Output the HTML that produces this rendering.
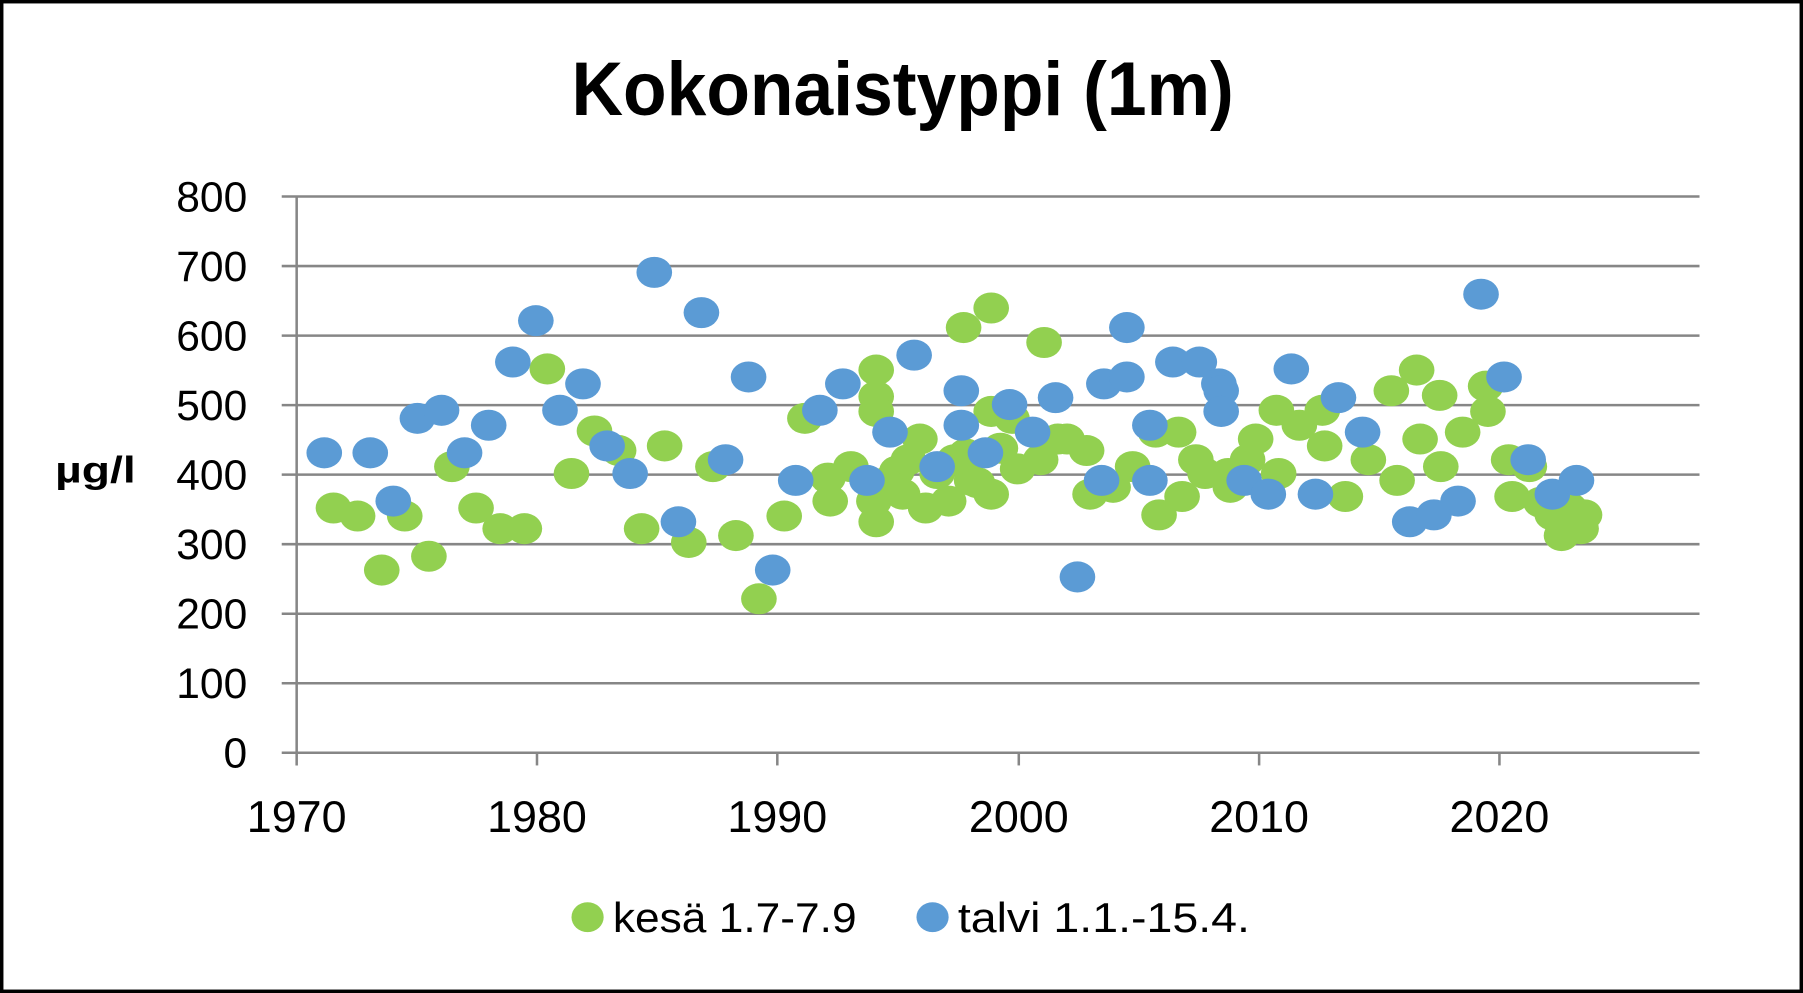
<!DOCTYPE html>
<html><head><meta charset="utf-8"><style>html,body{margin:0;padding:0;background:#fff}svg{display:block}</style></head>
<body>
<svg width="1803" height="993" viewBox="0 0 1568 864" preserveAspectRatio="none" xmlns="http://www.w3.org/2000/svg" font-family="'Liberation Sans', sans-serif">
<rect x="1.5" y="1.5" width="1565" height="861" fill="#fff" stroke="#000" stroke-width="3"/>
<text x="497" y="100" font-size="66" font-weight="bold" textLength="576" lengthAdjust="spacingAndGlyphs">Kokonaistyppi (1m)</text>
<g stroke="#868686" stroke-width="2.2">
<line x1="245" y1="171" x2="1478" y2="171"/><line x1="245" y1="231.5" x2="1478" y2="231.5"/>
<line x1="245" y1="292" x2="1478" y2="292"/><line x1="245" y1="352.5" x2="1478" y2="352.5"/>
<line x1="245" y1="413" x2="1478" y2="413"/><line x1="245" y1="473.5" x2="1478" y2="473.5"/>
<line x1="245" y1="534" x2="1478" y2="534"/><line x1="245" y1="594.5" x2="1478" y2="594.5"/>
<line x1="245" y1="655" x2="1478" y2="655"/>
<line x1="258" y1="171" x2="258" y2="666"/>
<line x1="467" y1="655" x2="467" y2="666"/><line x1="676" y1="655" x2="676" y2="666"/>
<line x1="886" y1="655" x2="886" y2="666"/><line x1="1095" y1="655" x2="1095" y2="666"/>
<line x1="1304" y1="655" x2="1304" y2="666"/>
</g>
<g font-size="37" text-anchor="end">
<text x="215" y="184">800</text>
<text x="215" y="244.5">700</text>
<text x="215" y="305">600</text>
<text x="215" y="365.5">500</text>
<text x="215" y="426">400</text>
<text x="215" y="486.5">300</text>
<text x="215" y="547">200</text>
<text x="215" y="607.5">100</text>
<text x="215" y="668">0</text>
</g>
<g font-size="39" text-anchor="middle">
<text x="258" y="724">1970</text>
<text x="467" y="724">1980</text>
<text x="676" y="724">1990</text>
<text x="886" y="724">2000</text>
<text x="1095" y="724">2010</text>
<text x="1304" y="724">2020</text>
</g>
<text x="48" y="420" font-size="32" font-weight="bold" textLength="70" lengthAdjust="spacingAndGlyphs">µg/l</text>
<g fill="#92d050">
<ellipse cx="290" cy="442" rx="15.5" ry="13.5"/><ellipse cx="311" cy="449" rx="15.5" ry="13.5"/><ellipse cx="332" cy="496" rx="15.5" ry="13.5"/><ellipse cx="352" cy="449" rx="15.5" ry="13.5"/><ellipse cx="373" cy="484" rx="15.5" ry="13.5"/><ellipse cx="393" cy="406" rx="15.5" ry="13.5"/><ellipse cx="414" cy="442" rx="15.5" ry="13.5"/><ellipse cx="435" cy="460" rx="15.5" ry="13.5"/><ellipse cx="456" cy="460" rx="15.5" ry="13.5"/><ellipse cx="476" cy="321" rx="15.5" ry="13.5"/><ellipse cx="497" cy="412" rx="15.5" ry="13.5"/><ellipse cx="517" cy="375" rx="15.5" ry="13.5"/><ellipse cx="538" cy="392" rx="15.5" ry="13.5"/><ellipse cx="558" cy="460" rx="15.5" ry="13.5"/><ellipse cx="578" cy="388" rx="15.5" ry="13.5"/><ellipse cx="599" cy="472" rx="15.5" ry="13.5"/><ellipse cx="620" cy="406" rx="15.5" ry="13.5"/><ellipse cx="640" cy="466" rx="15.5" ry="13.5"/><ellipse cx="660" cy="521" rx="15.5" ry="13.5"/><ellipse cx="682" cy="449" rx="15.5" ry="13.5"/><ellipse cx="700" cy="364" rx="15.5" ry="13.5"/><ellipse cx="720" cy="416" rx="15.5" ry="13.5"/><ellipse cx="722" cy="436" rx="15.5" ry="13.5"/><ellipse cx="740" cy="406" rx="15.5" ry="13.5"/><ellipse cx="762" cy="322" rx="15.5" ry="13.5"/><ellipse cx="762" cy="345" rx="15.5" ry="13.5"/><ellipse cx="762" cy="358" rx="15.5" ry="13.5"/><ellipse cx="760" cy="436" rx="15.5" ry="13.5"/><ellipse cx="762" cy="454" rx="15.5" ry="13.5"/><ellipse cx="780" cy="410" rx="15.5" ry="13.5"/><ellipse cx="785" cy="430" rx="15.5" ry="13.5"/><ellipse cx="800" cy="382" rx="15.5" ry="13.5"/><ellipse cx="805" cy="442" rx="15.5" ry="13.5"/><ellipse cx="825" cy="436" rx="15.5" ry="13.5"/><ellipse cx="838" cy="285" rx="15.5" ry="13.5"/><ellipse cx="840" cy="395" rx="15.5" ry="13.5"/><ellipse cx="845" cy="418" rx="15.5" ry="13.5"/><ellipse cx="862" cy="268" rx="15.5" ry="13.5"/><ellipse cx="862" cy="430" rx="15.5" ry="13.5"/><ellipse cx="862" cy="358" rx="15.5" ry="13.5"/><ellipse cx="870" cy="390" rx="15.5" ry="13.5"/><ellipse cx="880" cy="364" rx="15.5" ry="13.5"/><ellipse cx="885" cy="408" rx="15.5" ry="13.5"/><ellipse cx="908" cy="298" rx="15.5" ry="13.5"/><ellipse cx="905" cy="400" rx="15.5" ry="13.5"/><ellipse cx="920" cy="382" rx="15.5" ry="13.5"/><ellipse cx="928" cy="382" rx="15.5" ry="13.5"/><ellipse cx="945" cy="392" rx="15.5" ry="13.5"/><ellipse cx="948" cy="430" rx="15.5" ry="13.5"/><ellipse cx="968" cy="424" rx="15.5" ry="13.5"/><ellipse cx="985" cy="406" rx="15.5" ry="13.5"/><ellipse cx="1005" cy="376" rx="15.5" ry="13.5"/><ellipse cx="1008" cy="448" rx="15.5" ry="13.5"/><ellipse cx="1025" cy="376" rx="15.5" ry="13.5"/><ellipse cx="1028" cy="432" rx="15.5" ry="13.5"/><ellipse cx="1040" cy="400" rx="15.5" ry="13.5"/><ellipse cx="1048" cy="412" rx="15.5" ry="13.5"/><ellipse cx="1068" cy="412" rx="15.5" ry="13.5"/><ellipse cx="1070" cy="424" rx="15.5" ry="13.5"/><ellipse cx="1085" cy="400" rx="15.5" ry="13.5"/><ellipse cx="1092" cy="382" rx="15.5" ry="13.5"/><ellipse cx="1110" cy="357" rx="15.5" ry="13.5"/><ellipse cx="1112" cy="412" rx="15.5" ry="13.5"/><ellipse cx="1130" cy="370" rx="15.5" ry="13.5"/><ellipse cx="1150" cy="357" rx="15.5" ry="13.5"/><ellipse cx="1152" cy="388" rx="15.5" ry="13.5"/><ellipse cx="1170" cy="432" rx="15.5" ry="13.5"/><ellipse cx="1190" cy="400" rx="15.5" ry="13.5"/><ellipse cx="1210" cy="340" rx="15.5" ry="13.5"/><ellipse cx="1215" cy="418" rx="15.5" ry="13.5"/><ellipse cx="1232" cy="322" rx="15.5" ry="13.5"/><ellipse cx="1235" cy="382" rx="15.5" ry="13.5"/><ellipse cx="1252" cy="344" rx="15.5" ry="13.5"/><ellipse cx="1253" cy="406" rx="15.5" ry="13.5"/><ellipse cx="1272" cy="376" rx="15.5" ry="13.5"/><ellipse cx="1292" cy="336" rx="15.5" ry="13.5"/><ellipse cx="1294" cy="358" rx="15.5" ry="13.5"/><ellipse cx="1312" cy="400" rx="15.5" ry="13.5"/><ellipse cx="1315" cy="432" rx="15.5" ry="13.5"/><ellipse cx="1330" cy="406" rx="15.5" ry="13.5"/><ellipse cx="1340" cy="437" rx="15.5" ry="13.5"/><ellipse cx="1350" cy="448" rx="15.5" ry="13.5"/><ellipse cx="1358" cy="466" rx="15.5" ry="13.5"/><ellipse cx="1365" cy="442" rx="15.5" ry="13.5"/><ellipse cx="1375" cy="460" rx="15.5" ry="13.5"/><ellipse cx="1378" cy="448" rx="15.5" ry="13.5"/><ellipse cx="790" cy="400" rx="15.5" ry="13.5"/><ellipse cx="770" cy="420" rx="15.5" ry="13.5"/><ellipse cx="815" cy="412" rx="15.5" ry="13.5"/><ellipse cx="830" cy="400" rx="15.5" ry="13.5"/><ellipse cx="850" cy="420" rx="15.5" ry="13.5"/>
<ellipse cx="511" cy="798" rx="14" ry="13"/>
</g>
<g fill="#5b9bd5">
<ellipse cx="282" cy="394" rx="15.5" ry="13.5"/><ellipse cx="322" cy="394" rx="15.5" ry="13.5"/><ellipse cx="342" cy="436" rx="15.5" ry="13.5"/><ellipse cx="363" cy="364" rx="15.5" ry="13.5"/><ellipse cx="384" cy="357" rx="15.5" ry="13.5"/><ellipse cx="404" cy="394" rx="15.5" ry="13.5"/><ellipse cx="425" cy="370" rx="15.5" ry="13.5"/><ellipse cx="446" cy="315" rx="15.5" ry="13.5"/><ellipse cx="466" cy="279" rx="15.5" ry="13.5"/><ellipse cx="487" cy="357" rx="15.5" ry="13.5"/><ellipse cx="507" cy="334" rx="15.5" ry="13.5"/><ellipse cx="528" cy="388" rx="15.5" ry="13.5"/><ellipse cx="548" cy="412" rx="15.5" ry="13.5"/><ellipse cx="569" cy="237" rx="15.5" ry="13.5"/><ellipse cx="590" cy="454" rx="15.5" ry="13.5"/><ellipse cx="610" cy="272" rx="15.5" ry="13.5"/><ellipse cx="631" cy="400" rx="15.5" ry="13.5"/><ellipse cx="651" cy="328" rx="15.5" ry="13.5"/><ellipse cx="672" cy="496" rx="15.5" ry="13.5"/><ellipse cx="692" cy="418" rx="15.5" ry="13.5"/><ellipse cx="713" cy="357" rx="15.5" ry="13.5"/><ellipse cx="733" cy="334" rx="15.5" ry="13.5"/><ellipse cx="754" cy="418" rx="15.5" ry="13.5"/><ellipse cx="774" cy="376" rx="15.5" ry="13.5"/><ellipse cx="795" cy="309" rx="15.5" ry="13.5"/><ellipse cx="815" cy="406" rx="15.5" ry="13.5"/><ellipse cx="836" cy="340" rx="15.5" ry="13.5"/><ellipse cx="836" cy="370" rx="15.5" ry="13.5"/><ellipse cx="857" cy="394" rx="15.5" ry="13.5"/><ellipse cx="878" cy="352" rx="15.5" ry="13.5"/><ellipse cx="898" cy="376" rx="15.5" ry="13.5"/><ellipse cx="918" cy="346" rx="15.5" ry="13.5"/><ellipse cx="937" cy="502" rx="15.5" ry="13.5"/><ellipse cx="958" cy="418" rx="15.5" ry="13.5"/><ellipse cx="960" cy="334" rx="15.5" ry="13.5"/><ellipse cx="980" cy="285" rx="15.5" ry="13.5"/><ellipse cx="980" cy="328" rx="15.5" ry="13.5"/><ellipse cx="1000" cy="370" rx="15.5" ry="13.5"/><ellipse cx="1000" cy="418" rx="15.5" ry="13.5"/><ellipse cx="1020" cy="315" rx="15.5" ry="13.5"/><ellipse cx="1043" cy="315" rx="15.5" ry="13.5"/><ellipse cx="1060" cy="334" rx="15.5" ry="13.5"/><ellipse cx="1062" cy="340" rx="15.5" ry="13.5"/><ellipse cx="1062" cy="358" rx="15.5" ry="13.5"/><ellipse cx="1082" cy="418" rx="15.5" ry="13.5"/><ellipse cx="1103" cy="430" rx="15.5" ry="13.5"/><ellipse cx="1123" cy="321" rx="15.5" ry="13.5"/><ellipse cx="1144" cy="430" rx="15.5" ry="13.5"/><ellipse cx="1164" cy="346" rx="15.5" ry="13.5"/><ellipse cx="1185" cy="376" rx="15.5" ry="13.5"/><ellipse cx="1226" cy="454" rx="15.5" ry="13.5"/><ellipse cx="1247" cy="448" rx="15.5" ry="13.5"/><ellipse cx="1268" cy="436" rx="15.5" ry="13.5"/><ellipse cx="1288" cy="256" rx="15.5" ry="13.5"/><ellipse cx="1308" cy="328" rx="15.5" ry="13.5"/><ellipse cx="1329" cy="400" rx="15.5" ry="13.5"/><ellipse cx="1350" cy="430" rx="15.5" ry="13.5"/><ellipse cx="1371" cy="418" rx="15.5" ry="13.5"/>
<ellipse cx="811" cy="798" rx="14" ry="13"/>
</g>
<g font-size="36">
<text x="533" y="811" textLength="212" lengthAdjust="spacingAndGlyphs">kesä 1.7-7.9</text>
<text x="833" y="811" textLength="254" lengthAdjust="spacingAndGlyphs">talvi 1.1.-15.4.</text>
</g>
</svg>
</body></html>
